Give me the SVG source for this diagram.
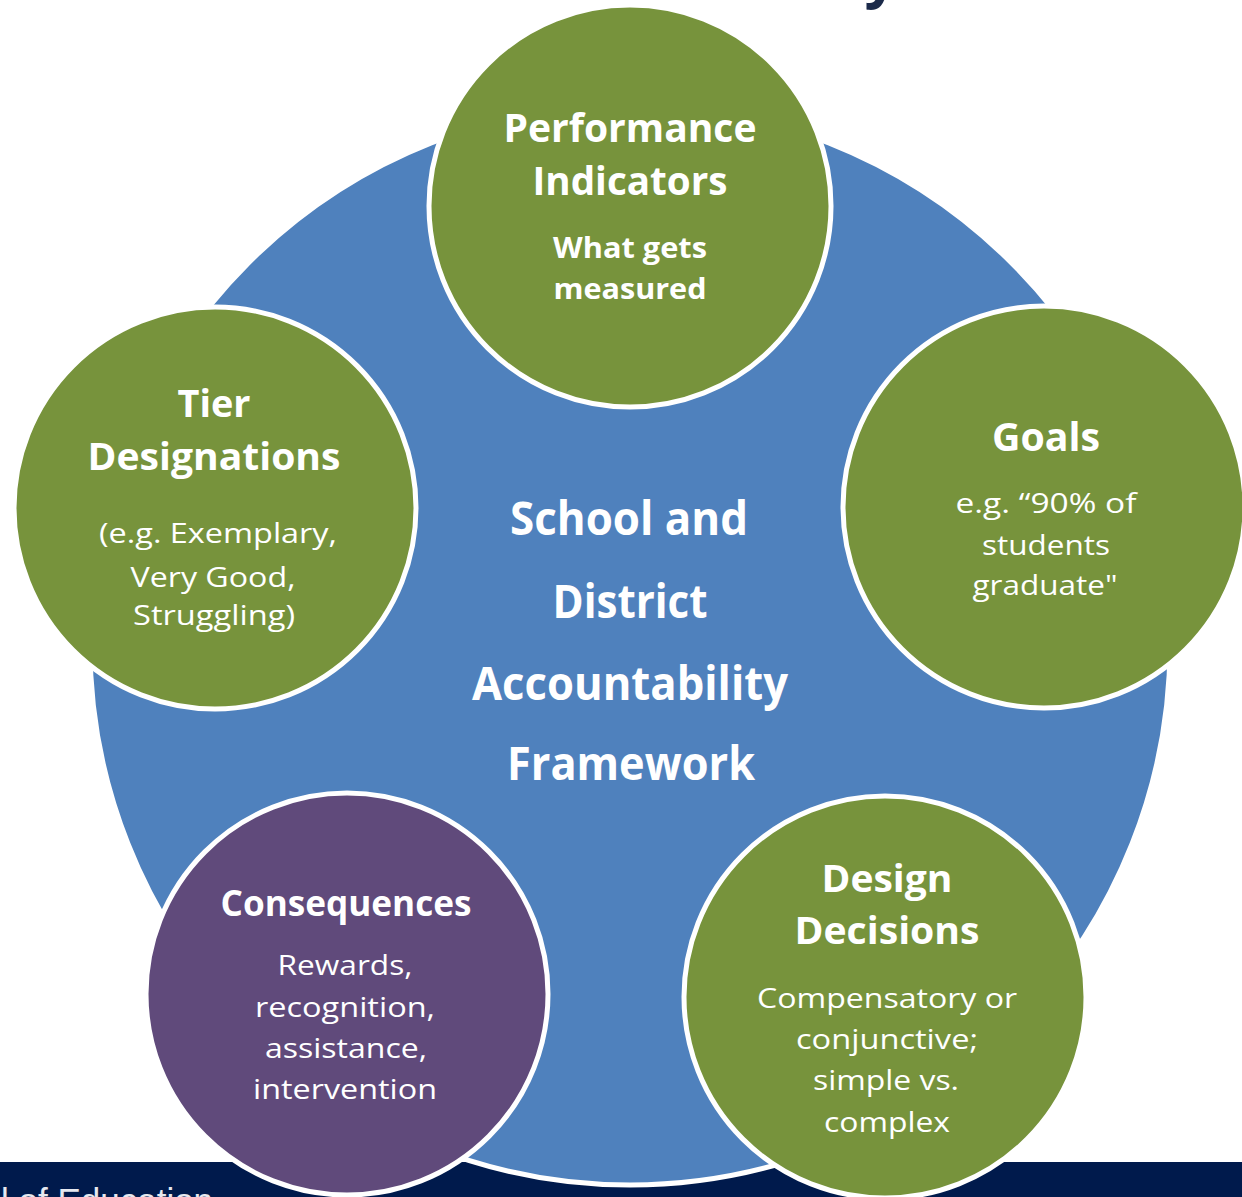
<svg xmlns="http://www.w3.org/2000/svg" width="1242" height="1197" viewBox="0 0 1242 1197">
  <style>
    .hub { fill: #4f81bd; stroke: #ffffff; stroke-width: 5; }
    .green { fill: #77933c; stroke: #ffffff; stroke-width: 5; }
    .purple { fill: #604a7b; stroke: #ffffff; stroke-width: 5; }
    text { fill: #ffffff; font-family: "Open Sans", "Noto Sans", "Liberation Sans", sans-serif; text-anchor: middle; }
    .h { font-weight: 700; }
    .b { font-weight: 400; }
    .c { font-weight: 700; font-size: 46px; }
  </style>

  <rect width="1242" height="1197" fill="#ffffff"/>

  <!-- page title descender, clipped at the top edge -->
  <text x="881" y="-4" style="fill:#1b2a4a;font-weight:700;font-size:58px;">y</text>

  <!-- footer bar -->
  <g id="footer">
    <rect x="0" y="1162" width="1242" height="35" fill="#001a4c"/>
    <text x="1" y="1213" style="text-anchor:start;font-family:'Liberation Sans',Arial,sans-serif;font-size:35px;fill:#e6e8ef;">l of Education</text>
  </g>

  <!-- central hub -->
  <g id="hub">
    <circle class="hub" cx="630" cy="645" r="540"/>
    <text class="c" x="629" y="535" textLength="238" lengthAdjust="spacingAndGlyphs">School and</text>
    <text class="c" x="630" y="618" textLength="155" lengthAdjust="spacingAndGlyphs">District</text>
    <text class="c" x="630" y="700" textLength="316" lengthAdjust="spacingAndGlyphs">Accountability</text>
    <text class="c" x="631" y="780" textLength="248" lengthAdjust="spacingAndGlyphs">Framework</text>
  </g>

  <!-- no connectors: the satellites sit on the hub -->
  <g id="connectors"></g>

  <g id="performance-indicators">
    <circle class="green" cx="630" cy="206" r="201"/>
    <text class="h" x="630" y="142" font-size="40" textLength="253" lengthAdjust="spacingAndGlyphs">Performance</text>
    <text class="h" x="630" y="195" font-size="40" textLength="195" lengthAdjust="spacingAndGlyphs">Indicators</text>
    <text class="h" x="630" y="258" font-size="29" textLength="154" lengthAdjust="spacingAndGlyphs">What gets</text>
    <text class="h" x="630" y="299" font-size="29" textLength="153" lengthAdjust="spacingAndGlyphs">measured</text>
  </g>

  <g id="tier-designations">
    <circle class="green" cx="215" cy="508" r="201"/>
    <text class="h" x="214" y="417" font-size="38" textLength="73" lengthAdjust="spacingAndGlyphs">Tier</text>
    <text class="h" x="214" y="470" font-size="38" textLength="253" lengthAdjust="spacingAndGlyphs">Designations</text>
    <text class="b" x="218" y="543" font-size="27" textLength="238" lengthAdjust="spacingAndGlyphs">(e.g. Exemplary,</text>
    <text class="b" x="213" y="587" font-size="27" textLength="165" lengthAdjust="spacingAndGlyphs">Very Good,</text>
    <text class="b" x="214" y="625" font-size="27" textLength="162" lengthAdjust="spacingAndGlyphs">Struggling)</text>
  </g>

  <g id="goals">
    <circle class="green" cx="1044" cy="507" r="201"/>
    <text class="h" x="1046" y="451" font-size="40" textLength="108" lengthAdjust="spacingAndGlyphs">Goals</text>
    <text class="b" x="1046" y="513" font-size="28" textLength="181" lengthAdjust="spacingAndGlyphs">e.g. “90% of</text>
    <text class="b" x="1046" y="555" font-size="28" textLength="128" lengthAdjust="spacingAndGlyphs">students</text>
    <text class="b" x="1045" y="595" font-size="28" textLength="145" lengthAdjust="spacingAndGlyphs">graduate"</text>
  </g>

  <g id="consequences">
    <circle class="purple" cx="347" cy="994" r="201"/>
    <text class="h" x="346" y="916" font-size="36" textLength="251" lengthAdjust="spacingAndGlyphs">Consequences</text>
    <text class="b" x="345" y="975" font-size="28" textLength="135" lengthAdjust="spacingAndGlyphs">Rewards,</text>
    <text class="b" x="345" y="1017" font-size="28" textLength="180" lengthAdjust="spacingAndGlyphs">recognition,</text>
    <text class="b" x="346" y="1058" font-size="28" textLength="162" lengthAdjust="spacingAndGlyphs">assistance,</text>
    <text class="b" x="345" y="1099" font-size="28" textLength="184" lengthAdjust="spacingAndGlyphs">intervention</text>
  </g>

  <g id="design-decisions">
    <circle class="green" cx="885" cy="997" r="201"/>
    <text class="h" x="887" y="892" font-size="38" textLength="131" lengthAdjust="spacingAndGlyphs">Design</text>
    <text class="h" x="887" y="944" font-size="38" textLength="185" lengthAdjust="spacingAndGlyphs">Decisions</text>
    <text class="b" x="887" y="1008" font-size="28" textLength="260" lengthAdjust="spacingAndGlyphs">Compensatory or</text>
    <text class="b" x="887" y="1049" font-size="28" textLength="182" lengthAdjust="spacingAndGlyphs">conjunctive;</text>
    <text class="b" x="886" y="1090" font-size="28" textLength="146" lengthAdjust="spacingAndGlyphs">simple vs.</text>
    <text class="b" x="887" y="1132" font-size="28" textLength="126" lengthAdjust="spacingAndGlyphs">complex</text>
  </g>
</svg>
